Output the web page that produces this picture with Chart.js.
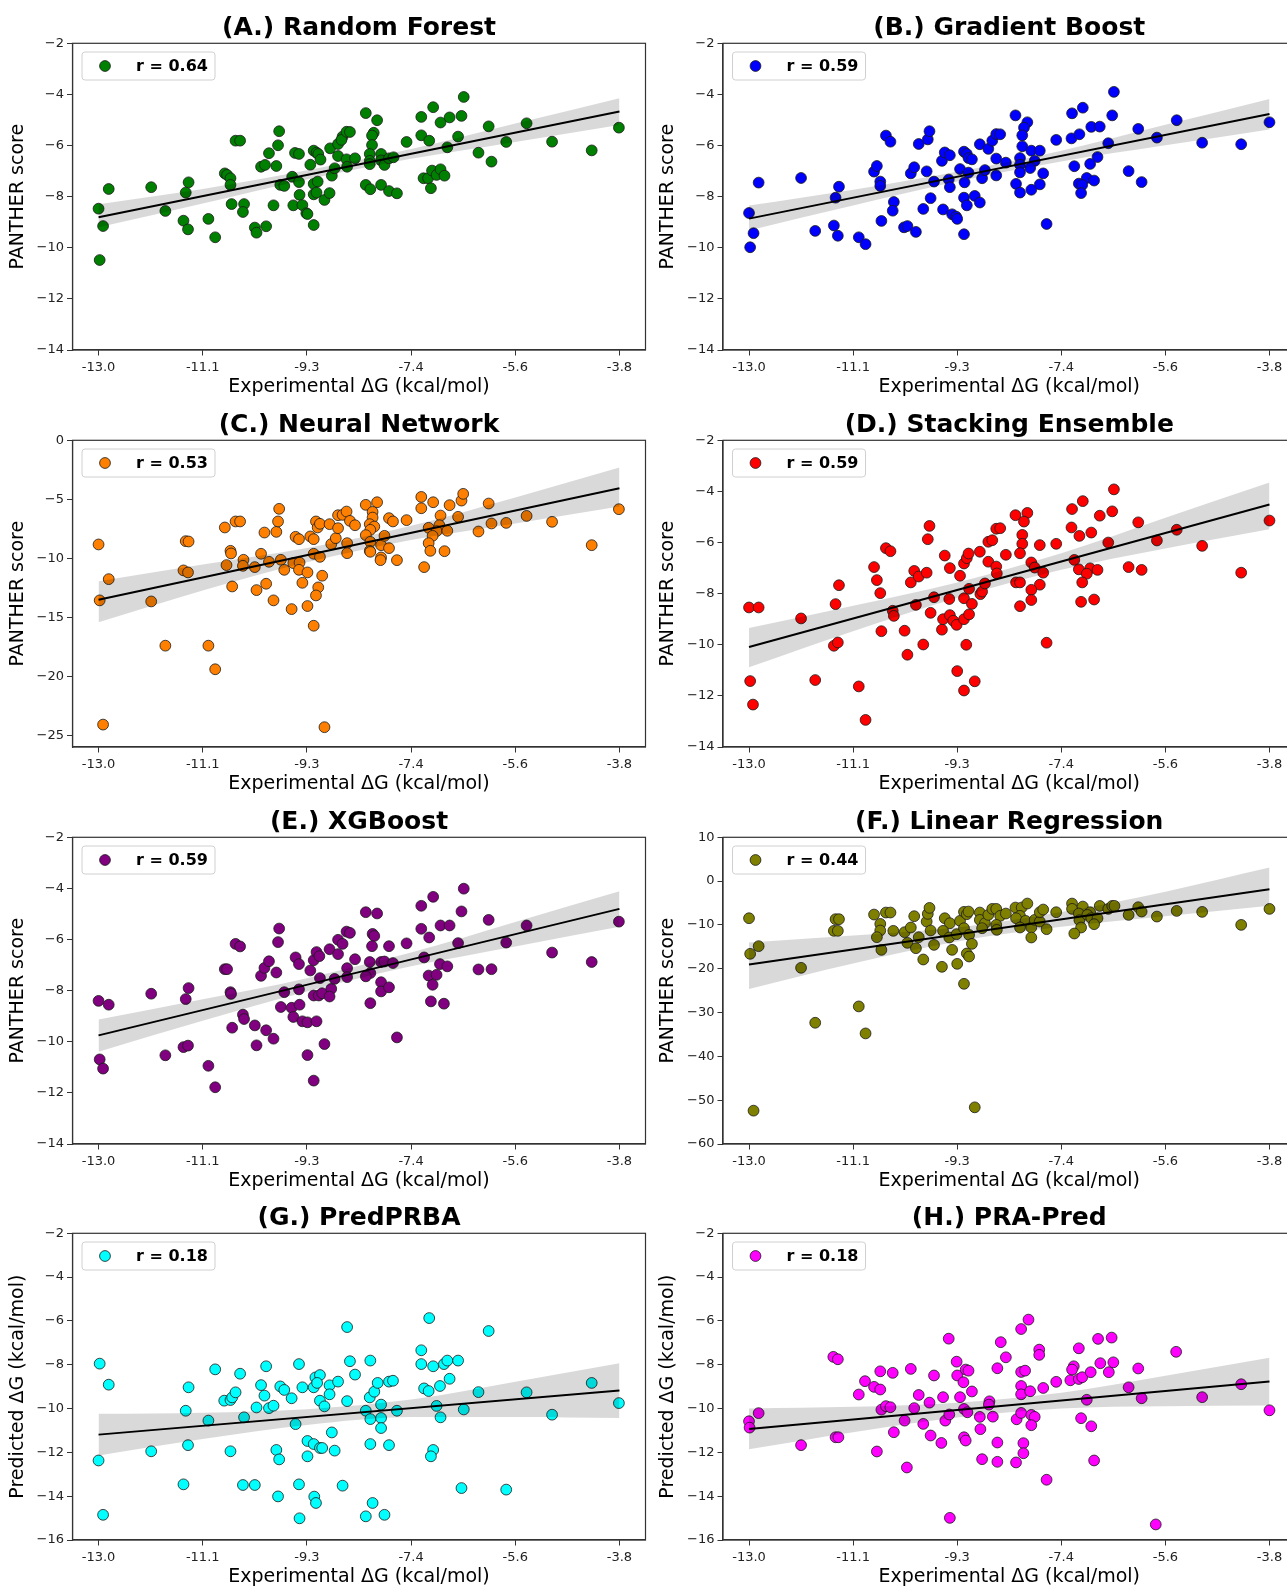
<!DOCTYPE html>
<html><head><meta charset="utf-8">
<style>
html,body{margin:0;padding:0;background:#fff;}
body{width:1287px;height:1587px;overflow:hidden;position:relative;}
canvas{position:absolute;}
</style>
<script src="https://cdn.jsdelivr.net/npm/chart.js@4.4.0/dist/chart.umd.min.js"></script>
</head><body>
<canvas id="c0"></canvas><canvas id="c1"></canvas><canvas id="c2"></canvas><canvas id="c3"></canvas>
<canvas id="c4"></canvas><canvas id="c5"></canvas><canvas id="c6"></canvas><canvas id="c7"></canvas>
<script>
// ---------- DATA ----------
const titles = ["(A.) Random Forest","(B.) Gradient Boost","(C.) Neural Network","(D.) Stacking Ensemble","(E.) XGBoost","(F.) Linear Regression","(G.) PredPRBA","(H.) PRA-Pred"];
const yTitles = ["PANTHER score","PANTHER score","PANTHER score","PANTHER score","PANTHER score","PANTHER score","Predicted \u0394G (kcal/mol)","Predicted \u0394G (kcal/mol)"];
const rValues = ["0.64","0.59","0.53","0.59","0.59","0.44","0.18","0.18"];
const colors = ["#008000","#0000ff","#ff8000","#ff0000","#800080","#808000","#00ffff","#ff00ff"];
const xTickValues = [-13.0,-11.16,-9.32,-7.48,-5.64,-3.8];
const xTickLabels = ["-13.0","-11.1","-9.3","-7.4","-5.6","-3.8"];
const yTicksA = [-14,-12,-10,-8,-6,-4,-2];
const yTicksC = [-25,-20,-15,-10,-5,0];
const yTicksF = [-60,-50,-40,-30,-20,-10,0,10];
const yTicksG = [-16,-14,-12,-10,-8,-6,-4,-2];

const aX = [-13.00,-12.92,-12.98,-12.82,-12.07,-11.82,-11.50,-11.42,-11.46,-11.41,
-11.06,-10.94,-10.77,-10.73,-10.67,-10.67,-10.65,-10.43,-10.45,-10.58,
-10.50,-10.24,-10.21,-10.04,-10.13,-10.06,-9.99,-9.91,-9.86,-9.83,
-9.81,-9.79,-9.72,-9.58,-9.56,-9.53,-9.46,-9.46,-9.45,-9.40,
-9.33,-9.31,-9.26,-9.20,-9.15,-9.12,-9.08,-9.20,-9.13,-9.20,
-9.15,-9.20,-9.01,-8.92,-8.91,-8.88,-8.83,-8.77,-8.69,-8.71,
-8.62,-8.56,-8.77,-8.62,-8.61,-8.47,-8.28,-8.08,-8.14,-8.17,
-8.17,-8.21,-8.21,-8.21,-8.28,-8.20,-8.01,-8.01,-7.95,-7.87,
-7.79,-8.01,-7.87,-7.73,-7.56,-7.30,-7.09,-6.96,-7.30,-7.16,
-6.80,-6.59,-6.55,-6.65,-6.84,-7.26,-7.18,-7.11,-7.03,-6.96,
-6.89,-7.13,-6.29,-6.11,-6.06,-5.80,-5.44,-4.99,-4.29,-3.81];
const aY = [-8.47,-9.15,-10.48,-7.70,-7.63,-8.56,-8.94,-9.28,-7.84,-7.44,
-8.87,-9.59,-7.09,-7.15,-7.28,-7.54,-8.29,-8.29,-8.60,-5.81,
-5.81,-9.21,-9.41,-9.16,-6.83,-6.76,-6.30,-8.34,-6.80,-5.99,
-5.44,-7.54,-7.58,-7.22,-8.34,-6.29,-6.33,-7.43,-7.93,-8.33,
-8.65,-8.68,-6.75,-6.20,-6.28,-6.33,-6.55,-7.50,-7.41,-7.91,
-7.84,-9.11,-8.13,-7.86,-6.11,-7.18,-6.89,-5.94,-5.65,-5.78,
-5.46,-5.47,-6.41,-6.54,-6.83,-6.50,-4.73,-5.01,-5.50,-5.61,
-5.98,-6.33,-6.60,-6.73,-7.54,-7.71,-6.33,-6.58,-6.76,-6.50,
-6.46,-7.54,-7.78,-7.87,-5.86,-4.88,-4.50,-5.10,-5.60,-5.81,
-4.90,-4.84,-4.10,-5.65,-6.07,-7.28,-7.28,-6.98,-7.15,-6.93,
-7.18,-7.67,-6.28,-5.25,-6.63,-5.86,-5.13,-5.85,-6.19,-5.30];

const bX = [-13.00,-12.92,-12.98,-12.83,-12.08,-11.83,-11.50,-11.43,-11.47,-11.41,
-11.06,-10.94,-10.79,-10.74,-10.68,-10.68,-10.66,-10.58,-10.50,-10.44,
-10.46,-10.26,-10.20,-10.05,-10.14,-10.08,-10.00,-9.92,-9.86,-9.84,
-9.81,-9.79,-9.73,-9.59,-9.54,-9.45,-9.57,-9.47,-9.45,-9.41,
-9.34,-9.32,-9.27,-9.20,-9.15,-9.12,-9.06,-9.19,-9.12,-9.20,
-9.15,-9.20,-9.01,-8.92,-8.88,-8.83,-8.92,-8.77,-8.70,-8.63,
-8.56,-8.63,-8.63,-8.46,-8.29,-8.08,-8.14,-8.17,-8.17,-8.21,
-8.21,-8.21,-8.28,-8.21,-8.01,-7.86,-7.95,-8.03,-7.80,-8.01,
-7.86,-7.74,-7.57,-7.29,-7.10,-7.30,-7.16,-6.95,-6.80,-6.55,
-6.58,-6.65,-6.84,-7.25,-6.97,-7.03,-6.90,-7.17,-7.11,-7.13,
-6.29,-6.12,-6.06,-5.79,-5.44,-4.99,-4.30,-3.80];
const bY = [-8.64,-9.43,-9.98,-7.45,-7.27,-9.34,-9.13,-9.53,-8.04,-7.61,
-9.59,-9.86,-7.02,-6.80,-7.41,-7.58,-8.95,-5.61,-5.85,-8.21,
-8.55,-9.20,-9.15,-9.38,-7.09,-6.85,-5.94,-8.48,-7.01,-5.76,
-5.44,-8.06,-7.41,-6.60,-6.27,-6.38,-8.50,-7.33,-7.63,-8.69,
-8.78,-8.87,-6.92,-6.24,-6.33,-6.49,-6.54,-7.44,-7.06,-8.04,
-8.34,-9.47,-7.97,-8.23,-7.28,-6.96,-5.95,-6.13,-5.81,-5.55,
-5.56,-6.51,-7.17,-6.67,-4.82,-5.09,-5.30,-5.60,-6.03,-6.49,
-6.75,-7.05,-7.50,-7.84,-6.20,-6.20,-6.60,-6.88,-7.09,-7.73,
-7.52,-9.07,-5.78,-4.74,-4.52,-5.72,-5.56,-5.27,-5.26,-3.90,
-4.82,-5.91,-6.45,-6.81,-6.72,-7.27,-7.37,-7.49,-7.54,-7.86,
-7.00,-5.35,-7.43,-5.69,-5.01,-5.89,-5.95,-5.09];

const cX = [-13.00,-12.98,-12.82,-12.92,-12.07,-11.82,-11.50,-11.42,-11.46,-11.41,
-11.06,-10.94,-10.77,-10.74,-10.67,-10.66,-10.64,-10.58,-10.50,-10.44,
-10.45,-10.24,-10.21,-10.04,-10.13,-10.07,-9.99,-9.91,-9.86,-9.83,
-9.81,-9.78,-9.72,-9.59,-9.56,-9.52,-9.46,-9.45,-9.46,-9.40,
-9.31,-9.31,-9.26,-9.20,-9.20,-9.16,-9.13,-9.09,-9.09,-9.05,
-9.12,-9.16,-9.20,-9.01,-8.92,-8.89,-8.81,-8.77,-8.77,-8.69,
-8.62,-8.56,-8.47,-8.61,-8.61,-8.28,-8.08,-8.16,-8.16,-8.21,
-8.13,-8.20,-8.28,-8.20,-8.21,-8.20,-8.01,-8.01,-8.02,-7.95,
-7.87,-7.87,-7.80,-7.73,-7.56,-7.30,-7.30,-7.09,-6.96,-6.80,
-6.59,-6.56,-6.65,-7.17,-6.98,-7.03,-7.10,-7.17,-7.14,-6.89,
-6.84,-7.25,-6.29,-6.11,-6.06,-5.80,-5.44,-4.99,-4.29,-3.81];
const cY = [-8.83,-13.57,-11.77,-24.10,-13.66,-17.41,-11.03,-11.20,-8.55,-8.58,
-17.41,-19.41,-7.39,-10.58,-9.37,-9.59,-12.39,-6.88,-6.88,-10.13,
-10.64,-10.75,-12.70,-12.16,-9.62,-7.82,-10.30,-13.57,-7.76,-6.88,
-5.81,-10.13,-10.98,-14.31,-10.41,-8.18,-8.38,-10.36,-10.98,-12.08,
-11.20,-14.05,-8.15,-8.38,-9.62,-6.88,-7.39,-7.08,-9.88,-11.48,
-12.47,-13.15,-15.72,-24.32,-7.11,-8.80,-8.30,-7.45,-6.35,-6.32,
-6.04,-6.83,-7.20,-8.72,-9.57,-5.47,-5.25,-6.07,-6.55,-7.11,
-7.31,-7.59,-8.04,-8.61,-9.37,-9.45,-8.89,-9.93,-10.16,-8.10,
-9.14,-6.60,-6.88,-10.16,-6.77,-4.80,-5.76,-5.25,-6.38,-5.50,
-5.11,-4.54,-6.49,-7.42,-7.20,-7.70,-8.10,-8.72,-9.37,-9.40,
-7.67,-10.75,-7.73,-5.36,-7.05,-7.00,-6.41,-6.91,-8.89,-5.84];

const dX = [-13.00,-12.83,-12.98,-12.93,-12.08,-11.83,-11.47,-11.41,-11.50,-11.43,
-11.06,-10.94,-10.79,-10.74,-10.68,-10.66,-10.58,-10.50,-10.46,-10.44,
-10.25,-10.20,-10.14,-10.08,-10.00,-10.05,-9.92,-9.86,-9.84,-9.81,
-9.79,-9.73,-9.59,-9.57,-9.54,-9.45,-9.46,-9.45,-9.39,-9.33,
-9.32,-9.27,-9.20,-9.15,-9.12,-9.20,-9.11,-9.20,-9.11,-9.06,
-9.16,-9.20,-9.01,-8.92,-8.91,-8.88,-8.83,-8.77,-8.77,-8.70,
-8.63,-8.56,-8.63,-8.62,-8.46,-8.29,-8.08,-8.14,-8.17,-8.17,
-8.21,-8.28,-8.21,-8.21,-8.01,-7.95,-7.86,-7.80,-7.86,-8.01,
-8.01,-7.74,-7.57,-7.29,-7.10,-7.30,-7.16,-6.95,-6.80,-6.55,
-6.58,-6.65,-7.25,-7.17,-6.97,-6.84,-7.03,-7.11,-7.13,-6.90,
-6.29,-6.12,-6.06,-5.79,-5.44,-4.99,-4.30,-3.80];
const dY = [-8.54,-8.54,-11.42,-12.34,-8.97,-11.38,-8.41,-7.67,-10.04,-9.91,
-11.63,-12.94,-6.96,-7.47,-7.98,-9.47,-6.22,-6.34,-8.67,-8.87,
-9.45,-10.39,-7.56,-7.11,-7.33,-8.44,-9.99,-7.18,-5.87,-5.35,
-8.75,-8.14,-9.41,-9.00,-6.51,-7.00,-8.21,-8.84,-9.06,-9.22,
-11.03,-7.30,-6.82,-6.61,-6.43,-8.18,-7.81,-9.00,-8.81,-8.40,
-10.00,-11.79,-11.43,-6.36,-8.02,-7.92,-7.60,-6.75,-5.97,-5.91,
-5.46,-5.44,-6.94,-7.21,-6.48,-4.93,-4.84,-5.18,-5.70,-6.05,
-6.42,-7.56,-7.56,-8.49,-6.78,-6.98,-6.10,-7.18,-7.65,-7.85,
-8.25,-9.92,-6.05,-4.69,-4.38,-5.41,-5.74,-5.61,-4.95,-3.92,
-4.78,-6.00,-6.68,-7.05,-7.01,-7.07,-7.22,-7.56,-8.32,-8.23,
-6.96,-5.21,-7.07,-5.92,-5.50,-6.13,-7.18,-5.14];

const eX = [-13.00,-12.82,-12.98,-12.92,-12.07,-11.82,-11.50,-11.42,-11.46,-11.41,
-11.06,-10.94,-10.77,-10.73,-10.67,-10.66,-10.64,-10.58,-10.50,-10.45,
-10.43,-10.24,-10.21,-10.04,-9.91,-10.13,-10.07,-9.99,-9.86,-9.83,
-9.81,-9.72,-9.78,-9.59,-9.56,-9.52,-9.46,-9.46,-9.45,-9.40,
-9.31,-9.31,-9.26,-9.20,-9.15,-9.10,-9.09,-9.20,-9.11,-9.05,
-9.15,-9.20,-9.01,-8.92,-8.89,-8.92,-8.83,-8.77,-8.77,-8.69,
-8.62,-8.56,-8.61,-8.61,-8.47,-8.28,-8.08,-8.16,-8.13,-8.17,
-8.21,-8.20,-8.28,-8.20,-8.01,-7.95,-7.80,-7.87,-8.01,-8.01,
-7.87,-7.73,-7.56,-7.30,-7.09,-7.30,-7.16,-6.96,-6.80,-6.59,
-6.55,-6.65,-7.25,-6.97,-6.84,-7.17,-7.03,-7.10,-7.13,-6.90,
-6.29,-6.11,-6.06,-5.80,-5.44,-4.99,-4.29,-3.81];
const eY = [-8.40,-8.55,-10.69,-11.05,-8.12,-10.53,-10.21,-10.15,-8.33,-7.90,
-10.94,-11.78,-7.16,-7.16,-8.06,-8.13,-9.45,-6.17,-6.27,-8.94,
-9.11,-9.36,-10.14,-9.55,-9.88,-7.42,-7.11,-6.85,-7.29,-6.10,
-5.57,-8.06,-8.64,-8.67,-9.03,-6.70,-6.96,-7.95,-8.55,-9.20,
-9.24,-10.52,-7.21,-6.81,-6.49,-6.65,-7.51,-8.19,-8.19,-8.10,
-9.20,-11.52,-10.09,-6.38,-7.93,-8.23,-7.54,-6.57,-6.01,-6.17,
-5.69,-5.74,-7.12,-7.47,-6.77,-4.93,-4.98,-5.78,-5.86,-6.26,
-6.88,-7.31,-7.44,-8.49,-6.88,-6.86,-6.92,-6.26,-7.67,-8.03,
-7.87,-9.83,-6.15,-4.68,-4.33,-5.58,-5.92,-5.45,-5.45,-4.90,
-4.01,-6.14,-6.70,-6.96,-7.05,-7.41,-7.38,-7.77,-8.42,-8.51,
-7.17,-5.23,-7.16,-6.12,-5.45,-6.51,-6.88,-5.30];

const fX = [-13.00,-12.98,-12.83,-12.92,-12.08,-11.83,-11.47,-11.41,-11.50,-11.43,
-11.06,-10.94,-10.79,-10.68,-10.68,-10.74,-10.66,-10.58,-10.50,-10.45,
-10.25,-10.20,-10.14,-10.08,-10.05,-10.00,-9.92,-9.86,-9.84,-9.81,
-9.79,-9.73,-9.59,-9.54,-9.45,-9.57,-9.46,-9.41,-9.32,-9.33,
-9.27,-9.20,-9.20,-9.15,-9.12,-9.11,-9.06,-9.15,-9.11,-9.20,
-9.01,-8.92,-8.92,-8.83,-8.88,-8.77,-8.70,-8.63,-8.56,-8.46,
-8.63,-8.62,-8.29,-8.18,-8.08,-8.21,-8.28,-8.11,-8.21,-8.01,
-8.01,-7.95,-7.86,-7.86,-7.80,-7.74,-7.57,-7.29,-7.29,-7.10,
-7.17,-7.16,-6.97,-7.02,-6.95,-6.84,-6.90,-7.13,-7.25,-6.80,
-6.65,-6.58,-6.54,-6.29,-6.12,-6.06,-5.79,-5.44,-4.99,-4.30,
-3.80];
const fY = [-8.47,-16.60,-14.85,-52.39,-19.79,-32.33,-8.69,-8.69,-11.35,-11.35,
-28.60,-34.76,-7.63,-9.76,-11.28,-12.80,-15.69,-7.17,-7.17,-11.35,
-11.66,-14.09,-10.59,-8.01,-15.31,-12.80,-17.89,-9.23,-7.48,-6.11,
-11.28,-14.55,-19.56,-8.47,-9.61,-11.35,-12.87,-15.69,-18.88,-12.11,
-9.07,-10.75,-7.02,-7.55,-6.95,-12.27,-14.32,-16.52,-17.21,-23.44,
-51.63,-7.17,-8.85,-9.61,-10.75,-7.71,-6.34,-6.34,-7.93,-7.40,
-9.99,-11.13,-6.03,-6.03,-5.12,-7.93,-8.47,-9.07,-10.59,-10.59,
-12.87,-8.85,-9.23,-7.10,-6.49,-10.97,-7.10,-5.12,-6.34,-5.81,
-7.40,-8.92,-7.10,-7.71,-8.47,-8.47,-9.83,-10.59,-11.96,-5.66,
-6.34,-5.66,-5.66,-7.71,-5.96,-6.95,-8.09,-6.80,-7.02,-9.99,
-6.34];

const gX = [-12.98,-12.82,-13.00,-12.92,-12.07,-11.50,-11.42,-11.46,-11.41,-11.06,
-10.94,-10.78,-10.67,-10.64,-10.58,-10.67,-10.50,-10.45,-10.43,-10.24,
-10.21,-10.13,-10.07,-10.04,-9.99,-9.91,-9.86,-9.81,-9.83,-9.79,
-9.72,-9.59,-9.52,-9.46,-9.40,-9.46,-9.45,-9.31,-9.31,-9.20,
-9.17,-9.09,-9.14,-9.09,-9.01,-9.20,-9.09,-9.05,-9.19,-9.16,
-8.92,-8.92,-8.88,-8.83,-8.77,-8.69,-8.61,-8.61,-8.56,-8.47,
-8.28,-8.28,-8.21,-8.20,-8.20,-8.20,-8.13,-8.07,-8.16,-8.01,
-8.01,-8.01,-7.95,-7.87,-7.80,-7.73,-7.87,-7.30,-7.30,-7.16,
-7.09,-6.90,-6.84,-6.65,-6.80,-6.97,-7.25,-7.17,-7.03,-6.96,
-7.09,-7.13,-6.59,-6.55,-6.29,-6.11,-5.80,-5.44,-4.99,-4.29,
-3.81];
const gY = [-7.95,-8.91,-12.37,-14.85,-11.95,-13.46,-11.67,-10.10,-9.03,-10.55,
-8.21,-9.64,-9.61,-9.49,-9.26,-11.95,-8.41,-13.49,-10.40,-13.49,
-9.95,-8.93,-9.41,-8.07,-9.98,-9.87,-11.89,-12.32,-14.01,-8.99,
-9.15,-9.53,-10.71,-7.97,-9.03,-13.46,-15.01,-12.18,-11.48,-9.03,
-8.58,-8.47,-8.83,-9.64,-9.90,-11.62,-11.80,-11.80,-14.02,-14.31,
-8.94,-9.35,-11.09,-11.92,-8.77,-13.52,-6.28,-9.66,-7.84,-8.45,
-10.10,-14.92,-9.49,-7.81,-10.48,-11.62,-9.23,-8.83,-14.31,-9.82,
-10.43,-10.89,-14.85,-8.77,-8.73,-10.10,-11.67,-7.34,-7.97,-5.87,
-8.07,-7.97,-7.81,-7.81,-8.64,-8.97,-9.08,-9.20,-9.88,-10.40,
-11.89,-12.18,-13.63,-10.04,-9.25,-6.46,-13.70,-9.26,-10.28,-8.83,
-9.75];

const hX = [-13.00,-12.99,-12.83,-12.08,-11.51,-11.43,-11.47,-11.42,-11.06,-10.95,
-10.79,-10.68,-10.68,-10.66,-10.58,-10.50,-10.46,-10.44,-10.74,-10.25,
-10.21,-10.14,-10.08,-10.00,-9.92,-9.81,-9.79,-9.73,-9.60,-9.57,
-9.53,-9.46,-9.47,-9.45,-9.33,-9.32,-9.27,-9.21,-9.17,-9.12,
-9.20,-9.14,-9.20,-9.17,-9.06,-8.92,-8.91,-8.88,-8.75,-8.76,
-8.69,-8.61,-8.55,-8.46,-8.61,-8.61,-8.28,-8.27,-8.19,-8.06,
-8.19,-8.12,-8.19,-8.19,-8.19,-8.15,-8.15,-8.03,-8.01,-7.95,
-8.01,-7.87,-7.87,-7.80,-7.74,-7.57,-7.32,-7.26,-7.29,-7.17,
-7.17,-7.11,-6.96,-7.03,-7.13,-6.95,-6.90,-6.83,-6.79,-6.64,
-6.59,-6.56,-6.29,-6.12,-6.06,-5.81,-5.45,-4.99,-4.30,-3.80];
const hY = [-10.58,-10.87,-10.21,-11.67,-7.64,-7.75,-11.31,-11.31,-9.36,-8.75,
-9.01,-8.30,-9.13,-10.05,-9.89,-9.94,-8.37,-11.08,-11.96,-10.55,
-12.69,-8.19,-9.98,-9.38,-10.70,-9.73,-11.23,-8.49,-11.57,-9.48,
-10.55,-10.27,-6.81,-14.99,-7.86,-8.49,-9.48,-8.80,-8.22,-8.27,
-10.02,-10.17,-11.31,-11.46,-9.22,-10.38,-10.94,-12.31,-9.67,-9.82,
-10.37,-8.16,-6.97,-7.66,-11.55,-12.43,-12.46,-10.49,-6.37,-5.94,
-8.33,-8.27,-8.97,-9.35,-10.20,-11.58,-12.04,-9.21,-10.29,-10.38,
-10.76,-7.31,-7.55,-9.06,-13.25,-8.78,-8.71,-8.07,-8.22,-7.25,
-8.65,-8.57,-8.34,-9.60,-10.44,-10.81,-12.37,-6.82,-7.93,-8.34,
-6.76,-7.89,-9.03,-8.17,-9.53,-15.29,-7.41,-9.48,-8.89,-10.08];

// regression line endpoints (at x = -13.0 and x = -3.8) and CI band edges at bandX
const fitX = [-13.0,-3.8];
const fitA = [-8.81,-4.67], fitB = [-8.86,-4.77], fitC = [-13.52,-4.06], fitD = [-10.09,-4.51];
const fitE = [-9.75,-4.80], fitF = [-19.03,-1.86], fitG = [-11.19,-9.18], fitH = [-10.93,-8.77];
const bandX = [-13.0,-11.16,-9.32,-7.48,-5.64,-3.8];
const upA = [-8.30,-7.70,-6.97,-6.14,-5.14,-4.15], loA = [-9.20,-8.27,-7.33,-6.52,-5.86,-5.20];
const upB = [-8.35,-7.73,-7.03,-6.20,-5.19,-4.18], loB = [-9.32,-8.35,-7.41,-6.62,-5.99,-5.37];
const upC = [-11.94,-10.53,-9.14,-7.25,-4.85,-2.31], loC = [-15.43,-12.73,-10.34,-8.45,-7.05,-5.62];
const upD = [-9.34,-8.47,-7.56,-6.42,-5.03,-3.65], loD = [-10.88,-9.47,-8.16,-7.06,-6.23,-5.48];
const upE = [-9.13,-8.34,-7.51,-6.51,-5.31,-4.11], loE = [-10.39,-9.18,-8.03,-7.05,-6.27,-5.50];
const upF = [-14.0,-12.4,-10.57,-7.03,-2.4,3.1], loF = [-24.6,-18.8,-13.77,-10.43,-8.0,-5.6];
const upG = [-10.24,-10.19,-10.03,-9.59,-8.78,-7.93], loG = [-12.14,-11.39,-10.75,-10.39,-10.38,-10.43];
const upH = [-10.0,-9.92,-9.73,-9.28,-8.50,-7.68], loH = [-11.86,-11.08,-10.41,-10.0,-9.90,-9.86];

const XS = [aX,bX,cX,dX,eX,fX,gX,hX];
const YS = [aY,bY,cY,dY,eY,fY,gY,hY];
const FITS = [fitA,fitB,fitC,fitD,fitE,fitF,fitG,fitH];
const UPS = [upA,upB,upC,upD,upE,upF,upG,upH];
const LOS = [loA,loB,loC,loD,loE,loF,loG,loH];
const YTICKS = [yTicksA,yTicksA,yTicksC,yTicksA,yTicksA,yTicksF,yTicksG,yTicksG];
const YRANGE = [[-14,-2],[-14,-2],[-26,0],[-14,-2],[-14,-2],[-60,10],[-16,-2],[-16,-2]];

// ---------- LAYOUT ----------
const FONT = "'DejaVu Sans'";
const canvasLeft = [0, 650];
const yAxisW = [72.5, 73];
const canvasTop = [0, 397, 794, 1190];
const CW = 660, CH = 400;

const framePlugin = {
  id: 'frame',
  afterDatasetsDraw(chart, args, opts) {
    const ctx = chart.ctx, a = chart.chartArea;
    ctx.save();
    ctx.strokeStyle = '#333'; ctx.lineWidth = 1.2;
    ctx.strokeRect(a.left, a.top, a.right - a.left, a.bottom - a.top);
    // legend box
    const lx = a.left + 9.5, ly = a.top + 8.7, lw = 133, lh = 28, rr = 3;
    ctx.beginPath();
    ctx.moveTo(lx + rr, ly); ctx.lineTo(lx + lw - rr, ly); ctx.arcTo(lx + lw, ly, lx + lw, ly + rr, rr);
    ctx.lineTo(lx + lw, ly + lh - rr); ctx.arcTo(lx + lw, ly + lh, lx + lw - rr, ly + lh, rr);
    ctx.lineTo(lx + rr, ly + lh); ctx.arcTo(lx, ly + lh, lx, ly + lh - rr, rr);
    ctx.lineTo(lx, ly + rr); ctx.arcTo(lx, ly, lx + rr, ly, rr); ctx.closePath();
    ctx.fillStyle = 'rgba(255,255,255,0.8)'; ctx.fill();
    ctx.strokeStyle = '#d0d0d0'; ctx.lineWidth = 1; ctx.stroke();
    ctx.beginPath(); ctx.arc(lx + 23, ly + 14, 5.4, 0, Math.PI * 2);
    ctx.fillStyle = opts.color; ctx.fill();
    ctx.strokeStyle = '#1a1a1a'; ctx.lineWidth = 0.8; ctx.stroke();
    ctx.font = "bold 16px " + FONT; ctx.fillStyle = '#000'; ctx.textBaseline = 'middle'; ctx.textAlign = 'left';
    ctx.fillText('r = ' + opts.r, lx + 54, ly + 14.5);
    ctx.restore();
  }
};

function fmtY(v) { return v === 0 ? '0' : (v < 0 ? '\u2212' : '') + Math.abs(v); }

for (let i = 0; i < 8; i++) {
  const col = i % 2, row = Math.floor(i / 2);
  const cv = document.getElementById('c' + i);
  cv.width = CW; cv.height = CH;
  cv.style.left = canvasLeft[col] + 'px'; cv.style.top = canvasTop[row] + 'px';
  cv.style.width = CW + 'px'; cv.style.height = CH + 'px';
  const pts = XS[i].map((x, k) => ({ x: x, y: YS[i][k] }));
  const up = bandX.map((x, k) => ({ x: x, y: UPS[i][k] }));
  const lo = bandX.map((x, k) => ({ x: x, y: LOS[i][k] }));
  const fit = fitX.map((x, k) => ({ x: x, y: FITS[i][k] }));
  const yt = YTICKS[i];
  new Chart(cv, {
    type: 'scatter',
    data: {
      datasets: [
        { type: 'scatter', data: pts, order: 3, backgroundColor: colors[i], borderColor: '#1a1a1a',
          pointRadius: 5.4, pointBorderWidth: 0.8, pointHoverRadius: 5.4 },
        { type: 'line', data: up, order: 2, borderWidth: 0, pointRadius: 0, fill: '+1',
          backgroundColor: 'rgba(0,0,0,0.15)', borderColor: 'rgba(0,0,0,0)', cubicInterpolationMode: 'monotone' },
        { type: 'line', data: lo, order: 2, borderWidth: 0, pointRadius: 0, fill: false,
          borderColor: 'rgba(0,0,0,0)', cubicInterpolationMode: 'monotone' },
        { type: 'line', data: fit, order: 1, borderWidth: 2, pointRadius: 0, borderColor: '#000', fill: false }
      ]
    },
    options: {
      responsive: false, animation: false, devicePixelRatio: 1,
      layout: { padding: { left: 0, right: 14.5, top: 0, bottom: 0 } },
      plugins: {
        legend: { display: false }, tooltip: { enabled: false },
        title: { display: true, text: titles[i], fullSize: false, color: '#000',
          font: { family: FONT, size: 25, weight: 'bold', lineHeight: 1.2 }, padding: { top: 13, bottom: 0.3 } },
        frame: { color: colors[i], r: rValues[i] }
      },
      scales: {
        x: {
          type: 'linear', min: -13.46, max: -3.34,
          afterBuildTicks: s => { s.ticks = xTickValues.map(v => ({ value: v })); },
          afterFit: s => { s.height = 50; },
          ticks: { callback: (v, k) => xTickLabels[k], font: { family: FONT, size: 13 }, color: '#222', padding: 4, maxRotation: 0, autoSkip: false },
          grid: { display: true, drawOnChartArea: false, drawTicks: true, tickLength: 5.5, color: '#333', tickWidth: 1 },
          border: { display: true, color: '#333', width: 1.2 },
          title: { display: true, text: 'Experimental \u0394G (kcal/mol)', color: '#000',
            font: { family: FONT, size: 19, lineHeight: 1.2 }, padding: { top: 0, bottom: 1.9 } }
        },
        y: {
          type: 'linear', min: YRANGE[i][0], max: YRANGE[i][1],
          afterBuildTicks: s => { s.ticks = yt.map(v => ({ value: v })); },
          afterFit: s => { s.width = yAxisW[col]; },
          ticks: { callback: v => fmtY(v), font: { family: FONT, size: 13 }, color: '#222', padding: 3, autoSkip: false },
          grid: { display: true, drawOnChartArea: false, drawTicks: true, tickLength: 5.5, color: '#333', tickWidth: 1 },
          border: { display: true, color: '#333', width: 1.2 },
          title: { display: true, text: yTitles[i], color: '#000',
            font: { family: FONT, size: 19, lineHeight: 1.2 }, padding: { top: 6.6, bottom: 0 } }
        }
      }
    },
    plugins: [framePlugin]
  });
}
</script>
</body></html>
